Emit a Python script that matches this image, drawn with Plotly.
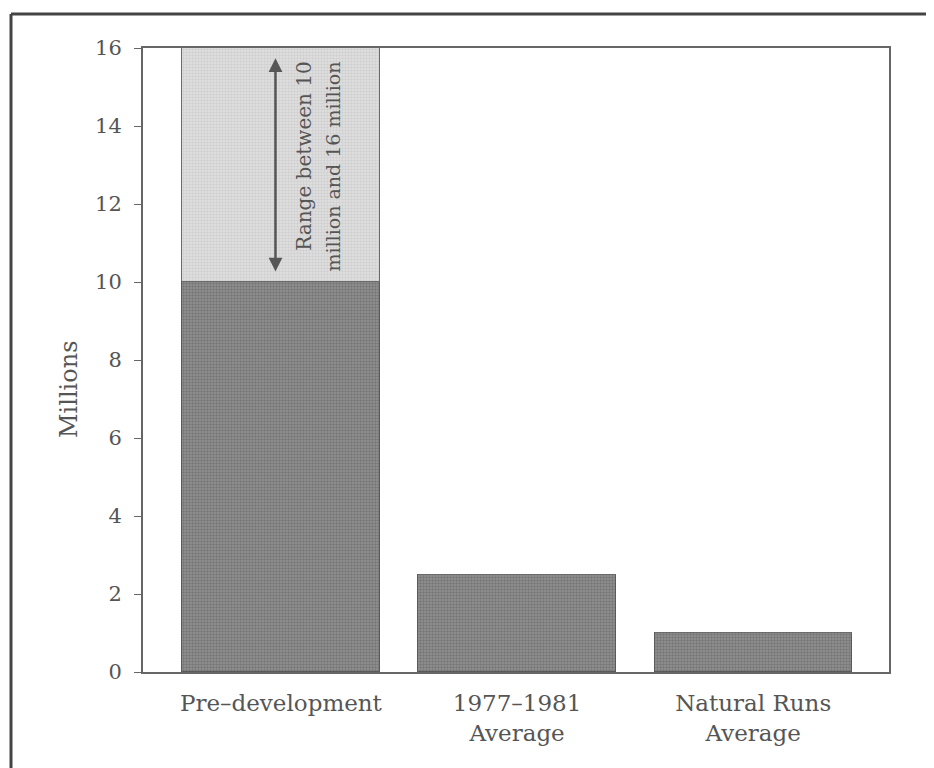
import plotly.graph_objects as go

categories = ["Pre–development", "1977–1981<br>Average", "Natural Runs<br>Average"]
base_values = [10, 2.5, 1.0]          # millions (dark bars)
range_extra = [6, 0, 0]               # Pre-development range 10–16 million (light segment)
y_ticks = [0, 2, 4, 6, 8, 10, 12, 14, 16]
range_low, range_high = 10, 16
annot_lines = ["Range between 10", "million and 16 million"]

FONT = "DejaVu Serif"
TXT = "#555555"

# page offset (body margin) compensation
OFF = 7
L, T = 142 - OFF, 47 - OFF
R = 934 - 888 + OFF
B = 768 - 671 + OFF
PW = 934 - L - R
PH = 768 - T - B

fig = go.Figure()
fig.add_trace(go.Bar(
    x=list(range(len(categories))), y=base_values, width=0.836,
    marker=dict(color="#8a8a8a", line=dict(color="#5a5a5a", width=1),
                pattern=dict(shape=".", bgcolor="#949494", fgcolor="#767676",
                             size=3, solidity=0.5, fillmode="replace")),
    showlegend=False, hoverinfo="skip"))
fig.add_trace(go.Bar(
    x=list(range(len(categories))), y=range_extra, width=0.836,
    marker=dict(color="#dedede", line=dict(color="#6a6a6a", width=1),
                pattern=dict(shape=".", bgcolor="#e2e2e2", fgcolor="#cfcfcf",
                             size=3, solidity=0.5, fillmode="replace")),
    showlegend=False, hoverinfo="skip"))

# double-headed arrow across the range
arrow_x = -0.023
fig.add_annotation(x=arrow_x, y=range_high - 0.26, ax=arrow_x, ay=range_low + 0.23,
                   xref="x", yref="y", axref="x", ayref="y", text="",
                   showarrow=True, arrowhead=2, arrowside="end+start",
                   arrowsize=1.1, arrowwidth=2.5, arrowcolor="#555555")
# rotated label lines (right-aligned: ends at top)
fig.add_annotation(x=0.100, y=range_high - 0.3, xref="x", yref="y", text=annot_lines[0],
                   textangle=-90, showarrow=False, yanchor="top", xanchor="center",
                   font=dict(family=FONT, size=20, color=TXT))
fig.add_annotation(x=0.220, y=range_high - 0.3, xref="x", yref="y", text=annot_lines[1],
                   textangle=-90, showarrow=False, yanchor="top", xanchor="center",
                   font=dict(family=FONT, size=19, color=TXT))

# y-axis title
fig.add_annotation(x=(52 - 142) / PW, y=(671 - 388) / PH, xref="paper", yref="paper",
                   text="Millions", textangle=-90, showarrow=False,
                   font=dict(family=FONT, size=24, color=TXT))

# outer frame (left and top edges visible)
fx = (10 - 142) / PW
fy = 1 + (47 - 13) / PH
fig.add_shape(type="line", xref="paper", yref="paper", x0=fx, x1=1.3, y0=fy, y1=fy,
              line=dict(color="#444444", width=3))
fig.add_shape(type="line", xref="paper", yref="paper", x0=fx, x1=fx, y0=fy, y1=-0.4,
              line=dict(color="#444444", width=3))

fig.update_layout(
    width=934, height=768,
    margin=dict(l=L, r=R, t=T, b=B),
    paper_bgcolor="white", plot_bgcolor="white",
    barmode="stack", bargap=0,
    font=dict(family=FONT, color=TXT, size=19),
    xaxis=dict(range=[-0.584, 2.575], tickmode="array", tickvals=list(range(len(categories))),
               ticktext=categories, showgrid=False, zeroline=False, ticks="",
               showline=True, linecolor="#666666", linewidth=2, mirror=True,
               ticklabelstandoff=9,
               tickfont=dict(family=FONT, size=23, color=TXT)),
    yaxis=dict(range=[0, 16], tickmode="array", tickvals=y_ticks, showgrid=False,
               zeroline=False, ticks="outside", ticklen=7, tickcolor="#666666",
               showline=True, linecolor="#666666", linewidth=2, mirror=True,
               ticklabelstandoff=8,
               tickfont=dict(family=FONT, size=21, color=TXT)),
)
fig.write_html("out.html")
